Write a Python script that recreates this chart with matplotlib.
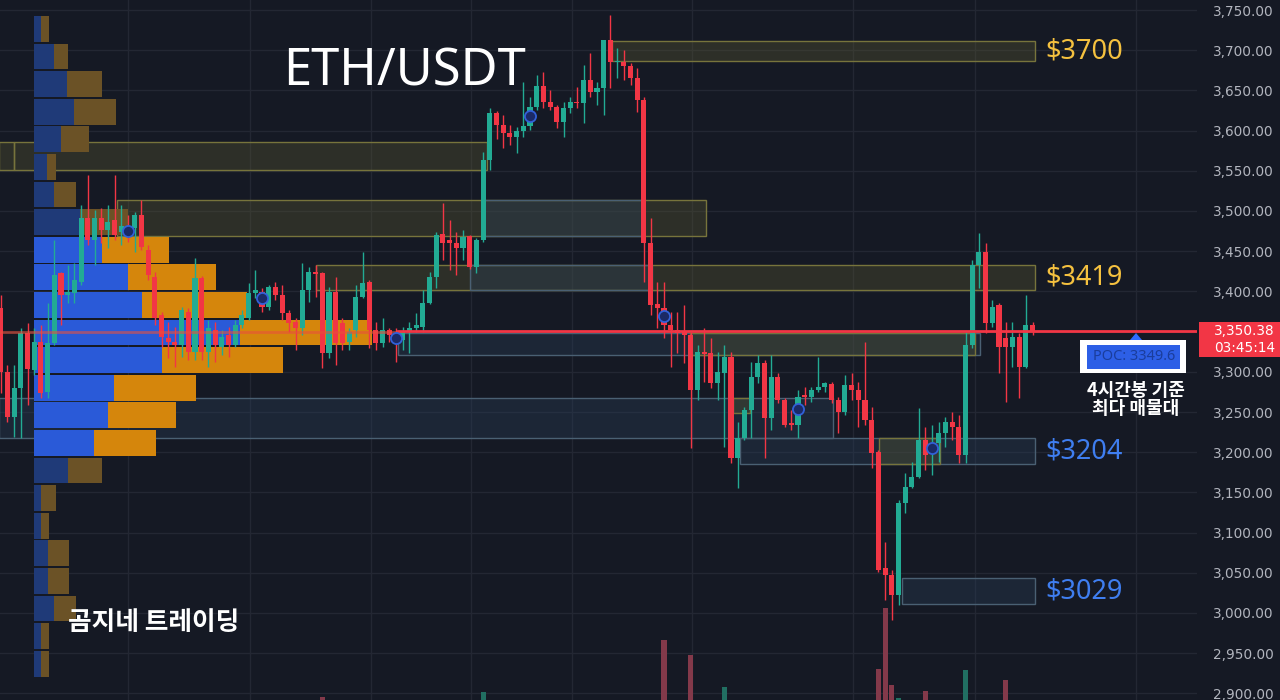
import matplotlib
matplotlib.use('Agg')
import matplotlib.pyplot as plt
from matplotlib.patches import Rectangle, Polygon
from matplotlib.ticker import FuncFormatter, FixedLocator
import numpy as np

plt.rcParams['font.family'] = ['Noto Sans CJK KR', 'DejaVu Sans']

# ---------------- data ----------------
opens = [3379, 3300, 3244, 3280, 3348, 3302, 3337, 3275, 3336, 3423,
         3396, 3398, 3412, 3491, 3464, 3491, 3476, 3489, 3474, 3479,
         3479, 3495, 3452, 3418, 3371, 3342, 3337, 3333, 3374, 3325,
         3417, 3325, 3352, 3331, 3346, 3333, 3358, 3367, 3398, 3399,
         3381, 3405, 3396, 3373, 3362, 3354, 3402, 3424, 3423, 3323,
         3399, 3361, 3337, 3352, 3393, 3412, 3352, 3336, 3352, 3346,
         3340, 3350, 3354, 3356, 3386, 3418, 3471, 3464, 3460, 3454,
         3469, 3430, 3464, 3563, 3622, 3607, 3597, 3592, 3600, 3606,
         3629, 3655, 3636, 3629, 3611, 3628, 3636, 3634, 3663, 3648,
         3653, 3713, 3685, 3685, 3680, 3665, 3638, 3460, 3384, 3379,
         3358, 3352, 3350, 3346, 3277, 3325, 3323, 3286, 3299, 3318,
         3193, 3218, 3252, 3294, 3311, 3243, 3294, 3265, 3236, 3234,
         3271, 3269, 3277, 3281, 3285, 3265, 3250, 3284, 3277, 3265,
         3240, 3200, 3056, 3047, 3022, 3137, 3157, 3169, 3215, 3199,
         3211, 3224, 3238, 3231, 3197, 3333, 3433, 3449, 3361, 3383,
         3342, 3331, 3343, 3306, 3358]
highs = [3396, 3308, 3308, 3354, 3361, 3355, 3358, 3386, 3464, 3424,
         3433, 3435, 3507, 3545, 3501, 3504, 3507, 3545, 3507, 3495,
         3499, 3514, 3458, 3424, 3375, 3362, 3356, 3381, 3379, 3442,
         3419, 3364, 3362, 3352, 3356, 3364, 3377, 3410, 3427, 3404,
         3408, 3412, 3408, 3377, 3367, 3435, 3430, 3433, 3424, 3405,
         3418, 3367, 3354, 3408, 3449, 3414, 3362, 3367, 3354, 3354,
         3356, 3362, 3373, 3402, 3424, 3474, 3510, 3489, 3474, 3476,
         3470, 3466, 3573, 3628, 3624, 3619, 3607, 3605, 3660, 3642,
         3669, 3673, 3651, 3632, 3636, 3642, 3654, 3682, 3697, 3660,
         3713, 3744, 3703, 3700, 3684, 3678, 3642, 3491, 3412, 3412,
         3374, 3374, 3383, 3350, 3333, 3354, 3342, 3325, 3333, 3325,
         3238, 3256, 3312, 3321, 3315, 3321, 3299, 3267, 3252, 3277,
         3281, 3281, 3318, 3287, 3287, 3269, 3296, 3299, 3287, 3337,
         3256, 3203, 3088, 3053, 3141, 3174, 3188, 3255, 3231, 3234,
         3238, 3244, 3250, 3246, 3350, 3439, 3473, 3460, 3389, 3386,
         3362, 3362, 3348, 3396, 3362]
lows = [3274, 3238, 3219, 3218, 3259, 3296, 3267, 3268, 3333, 3358,
        3386, 3385, 3408, 3458, 3433, 3460, 3454, 3464, 3458, 3462,
        3449, 3451, 3414, 3358, 3331, 3317, 3306, 3318, 3315, 3315,
        3315, 3306, 3312, 3321, 3318, 3331, 3354, 3364, 3392, 3375,
        3377, 3389, 3364, 3350, 3327, 3346, 3387, 3393, 3305, 3317,
        3308, 3327, 3327, 3343, 3392, 3330, 3327, 3331, 3337, 3312,
        3327, 3323, 3350, 3350, 3384, 3404, 3439, 3427, 3420, 3439,
        3428, 3423, 3461, 3551, 3589, 3578, 3582, 3572, 3592, 3601,
        3626, 3628, 3626, 3603, 3592, 3622, 3628, 3609, 3642, 3632,
        3619, 3653, 3665, 3663, 3657, 3623, 3412, 3371, 3354, 3342,
        3306, 3323, 3311, 3205, 3265, 3287, 3280, 3265, 3206, 3187,
        3155, 3215, 3218, 3286, 3193, 3228, 3261, 3231, 3228, 3218,
        3259, 3262, 3275, 3275, 3261, 3224, 3246, 3265, 3231, 3234,
        3180, 3051, 3016, 2991, 3010, 3124, 3155, 3168, 3178, 3172,
        3188, 3206, 3215, 3187, 3187, 3330, 3404, 3348, 3356, 3299,
        3262, 3306, 3267, 3305, 3346]
closes = [3300, 3244, 3280, 3348, 3303, 3337, 3274, 3336, 3420, 3396,
          3399, 3414, 3491, 3464, 3491, 3476, 3486, 3470, 3481, 3473,
          3495, 3455, 3420, 3367, 3343, 3337, 3333, 3377, 3325, 3417,
          3325, 3354, 3333, 3343, 3333, 3358, 3371, 3398, 3402, 3381,
          3405, 3396, 3373, 3361, 3354, 3402, 3424, 3422, 3323, 3399,
          3336, 3336, 3350, 3393, 3410, 3352, 3336, 3352, 3346, 3340,
          3350, 3354, 3358, 3386, 3418, 3470, 3460, 3460, 3454, 3468,
          3430, 3464, 3563, 3622, 3607, 3597, 3592, 3600, 3606, 3629,
          3655, 3636, 3629, 3611, 3628, 3636, 3634, 3663, 3648, 3653,
          3713, 3685, 3687, 3680, 3665, 3638, 3460, 3383, 3379, 3358,
          3352, 3348, 3346, 3277, 3325, 3322, 3286, 3300, 3318, 3193,
          3218, 3252, 3294, 3311, 3243, 3294, 3265, 3234, 3234, 3269,
          3269, 3277, 3281, 3286, 3265, 3250, 3284, 3277, 3265, 3240,
          3199, 3053, 3047, 3022, 3137, 3157, 3169, 3215, 3197, 3209,
          3224, 3238, 3231, 3197, 3333, 3433, 3449, 3361, 3381, 3331,
          3331, 3343, 3306, 3358, 3350]

vol_idx = [48, 72, 99, 103, 108, 131, 132, 133, 134, 138, 144, 150]
vol_val = [1.3, 3.4, 25.7, 19.3, 5.6, 13.3, 39.4, 6.4, 0.9, 3.9, 12.9, 8.6]

# volume profile rows (top -> bottom), buy / sell volume (K)
vp_buy = [0.7, 2.0, 3.3, 4.0, 2.7, 1.3, 2.0, 4.6, 6.8, 9.4, 10.8, 20.6,
          12.8, 8.0, 7.4, 6.0, 3.4, 0.7, 0.7, 1.4, 1.4, 2.0, 0.7, 0.7]
vp_sell = [0.8, 1.4, 3.5, 4.2, 2.8, 0.9, 2.2, 4.8, 6.7, 8.8, 10.5, 13.2,
           12.1, 8.2, 6.8, 6.2, 3.4, 1.5, 0.8, 2.1, 2.1, 2.2, 0.8, 0.8]
vp_value_area = [8, 9, 10, 11, 12, 13, 14, 15]
vp_top = 3743.7
vp_step = 34.33

# zones: (start idx, end idx, low price, high price, kind)
zones = [
    (-0.2, 2.0, 3551.0, 3585.8, 'y'),
    (2.0, 72.6, 3551.0, 3585.8, 'y'),
    (17.4, 105.3, 3469.0, 3513.6, 'y'),
    (72.0, 95.7, 3469.0, 3513.6, 'b'),
    (91.2, 154.4, 3686.5, 3711.4, 'y'),
    (47.1, 154.4, 3401.7, 3432.8, 'y'),
    (70.0, 97.2, 3401.7, 3432.8, 'b'),
    (59.3, 146.2, 3320.9, 3348.2, 'b'),
    (102.9, 145.4, 3320.9, 3348.2, 'y'),
    (-0.2, 124.2, 3217.6, 3267.4, 'b'),
    (109.3, 111.8, 3248.7, 3267.4, 'y'),
    (110.3, 154.4, 3185.3, 3217.6, 'b'),
    (131.1, 140.2, 3185.3, 3217.6, 'y'),
    (134.5, 154.4, 3011.2, 3043.5, 'b'),
]

marker_idx = [19, 39, 59, 79, 99, 119, 139]
marker_price = [3475, 3392, 3342, 3618, 3369, 3254, 3205]

vgrid_idx = [19.0, 37.2, 55.3, 70.2, 85.3, 103.2, 127.2, 145.4, 169.45]

last_price = 3350.38
last_time = '03:45:14'
poc_price = 3349.6

level_labels = ['$3700', '$3419', '$3204', '$3029']
level_zone_lo = [3686.5, 3401.7, 3185.3, 3011.2]
level_zone_hi = [3711.4, 3432.8, 3217.6, 3043.5]
level_colors = ['#f5c13f', '#f5c13f', '#3f7ef0', '#3f7ef0']

# ---------------- style ----------------
BG = '#151924'
UP = '#22ab94'
DN = '#f23645'
W, H = 1280, 700
PX = 6.7          # candle spacing in pixels
AX_W = 1197

fig = plt.figure(figsize=(W / 100, H / 100), dpi=100, facecolor=BG)
ax = fig.add_axes([0, 0, AX_W / W, 1])
ax.set_facecolor(BG)
for s in ax.spines.values():
    s.set_visible(False)

def fx(x):
    return x / W

def fy(y):
    return 1 - y / H

# grid
yt = np.arange(2900, 3751, 50)
for p in yt:
    ax.axhline(p, color='#232733', lw=1, zorder=0)
for g in vgrid_idx:
    ax.axvline(g, color='#232733', lw=1, zorder=0)

# zones
for i0, i1, lo, hi, kind in zones:
    if kind == 'y':
        fc, ec, a = '#5a5a32', '#77743c', 0.35
    else:
        fc, ec, a = '#2a3f5a', '#4a6073', 0.35
    ax.add_patch(Rectangle((i0, lo), i1 - i0, hi - lo, facecolor=fc, alpha=a,
                           edgecolor='none', zorder=1))
    ax.add_patch(Rectangle((i0, lo), i1 - i0, hi - lo, facecolor='none',
                           edgecolor=ec, lw=1, zorder=1.1))

# volume profile
vp_x0 = (34 - 0.7) / PX
vp_scale = 10 / PX
for k in range(len(vp_buy)):
    yc = vp_top - vp_step * (k + 0.5)
    hgt = vp_step * 0.93
    if k in vp_value_area:
        cb, cs = '#2a5ad8', '#d5860c'
    else:
        cb, cs = '#1f3a78', '#6b5226'
    wb = vp_buy[k] * vp_scale
    ws = vp_sell[k] * vp_scale
    ax.barh(yc, wb, left=vp_x0, height=hgt, color=cb, zorder=2, linewidth=0)
    ax.barh(yc, ws, left=vp_x0 + wb, height=hgt, color=cs, zorder=2, linewidth=0)

# volume bars at bottom (axes-fraction heights)
xt = ax.get_xaxis_transform()
for i, v in zip(vol_idx, vol_val):
    col = '#83394a' if closes[i] < opens[i] else '#216f62'
    ax.add_patch(Rectangle((i - 0.38, 0), 0.76, v / 300.0, transform=xt,
                           facecolor=col, edgecolor='none', zorder=1.5))

# candles
n = len(opens)
x = np.arange(n)
o = np.array(opens, float)
c = np.array(closes, float)
h = np.array(highs, float)
l = np.array(lows, float)
cols = [UP if cc >= oo else DN for oo, cc in zip(o, c)]
ax.vlines(x, l, h, colors=cols, lw=1, zorder=3)
body_lo = np.minimum(o, c)
body_h = np.maximum(np.abs(c - o), 1.3)
ax.bar(x, body_h, bottom=body_lo, width=0.75, color=cols, linewidth=0, zorder=3.1)

# markers
ax.plot(marker_idx, marker_price, 'o', ms=8, mfc='#1b2a66', mec='#3160d8',
        mew=1.3, zorder=4, linestyle='none')

# price / POC line
ax.plot([-0.2, 59.3], [poc_price, poc_price], color='#e8503c', alpha=0.6, lw=2, zorder=3.5)
ax.plot([59.3, 190], [last_price, last_price], color=DN, lw=2, zorder=3.5)

# limits
ax.set_xlim(-0.7 / PX, (AX_W - 0.7) / PX)
ax.set_ylim(3750 - 690 * 50 / 40.2, 3750 + 10 * 50 / 40.2)

# right price axis
ax.yaxis.tick_right()
ax.yaxis.set_major_locator(FixedLocator(yt))
ax.yaxis.set_major_formatter(FuncFormatter(lambda v, p: '' if abs(v - 3350) < 1 else f'{v:,.2f}'))
ax.tick_params(axis='y', length=0, pad=11.5, labelsize=9.8, labelcolor='#b2b5be')
for t in ax.get_yticklabels():
    t.set_family(['DejaVu Sans'])
ax.set_xticks([])

# last price tag
fig.add_artist(Rectangle((fx(1199), fy(357)), 81 / W, 35 / H, transform=fig.transFigure,
                         facecolor=DN, edgecolor='none', zorder=5))
fig.text(fx(1214), fy(331), f'{last_price:,.2f}', color='white', fontsize=9.8,
         ha='left', va='center', family=['DejaVu Sans'], zorder=6)
fig.text(fx(1214), fy(348), last_time, color='white', fontsize=9.8,
         ha='left', va='center', family=['DejaVu Sans'], zorder=6)

# title and watermark
fig.text(fx(405), fy(72), 'ETH/USDT', color='white', fontsize=36.5, ha='center',
         va='center', family=['Noto Sans', 'DejaVu Sans'])
fig.text(fx(68), fy(622), '곰지네 트레이딩', color='white', fontsize=18.5,
         ha='left', va='center', weight='bold')

# level labels
for lab, lo, hi, col in zip(level_labels, level_zone_lo, level_zone_hi, level_colors):
    ax.text((1045 - 0.7) / PX, (lo + hi) / 2, lab, color=col, fontsize=19.5,
            ha='left', va='center', family=['Noto Sans', 'DejaVu Sans'], zorder=6)

# POC label
fig.add_artist(Polygon([(fx(1130), fy(340)), (fx(1142), fy(340)), (fx(1136), fy(333))],
                       closed=True, transform=fig.transFigure, facecolor='#2d6bff',
                       edgecolor='none', zorder=5))
fig.add_artist(Rectangle((fx(1080), fy(373)), 106 / W, 33 / H, transform=fig.transFigure,
                         facecolor='white', edgecolor='none', zorder=5))
fig.add_artist(Rectangle((fx(1087), fy(369)), 93 / W, 24 / H, transform=fig.transFigure,
                         facecolor='#2d5fe6', edgecolor='none', zorder=5.1))
fig.text(fx(1134), fy(357), f'POC: {poc_price}', color='#1a3d9c', fontsize=10.5,
         ha='center', va='center', family=['Noto Sans', 'DejaVu Sans'], zorder=6)
fig.text(fx(1136), fy(390), '4시간봉 기준', color='white', fontsize=13,
         ha='center', va='center', weight='bold', zorder=6)
fig.text(fx(1136), fy(409), '최다 매물대', color='white', fontsize=13,
         ha='center', va='center', weight='bold', zorder=6)

fig.savefig('out.png', dpi=100, facecolor=BG)
